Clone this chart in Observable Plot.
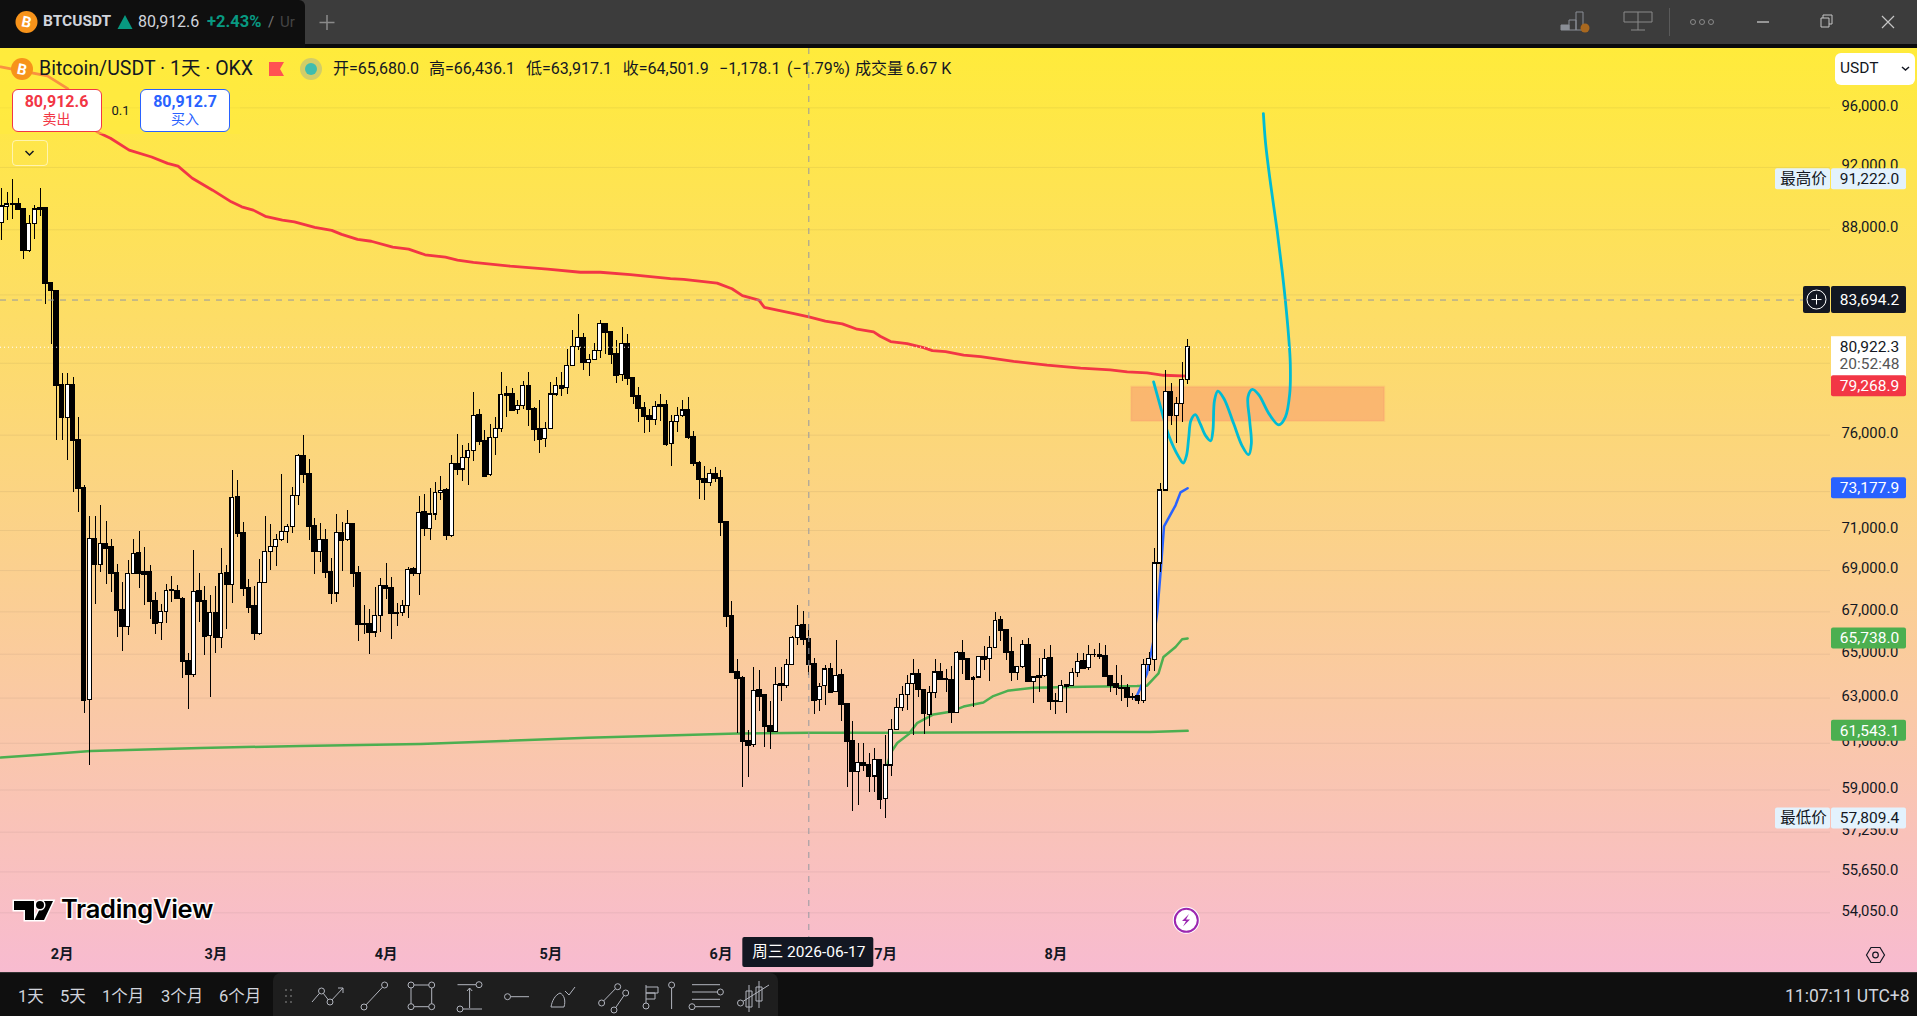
<!DOCTYPE html>
<html lang="zh"><head><meta charset="utf-8"><title>BTCUSDT</title>
<script src="https://cdn.jsdelivr.net/npm/d3@7"></script>
<script src="https://cdn.jsdelivr.net/npm/@observablehq/plot@0.6"></script>
<style>
html,body{margin:0;padding:0;background:#0f0f0f;overflow:hidden}
#app{position:relative;width:1917px;height:1016px;overflow:hidden;font-family:Roboto,"Noto Sans CJK SC",sans-serif}
#host{position:absolute;left:0;top:48px;width:1917px;height:924px}
#host svg{display:block}
.l{position:absolute;white-space:nowrap;transform:translateY(-50%);line-height:1}
.box{position:absolute;box-sizing:border-box}
#chrome{position:absolute;left:0;top:0;pointer-events:none}
</style></head><body><div id="app">
<div class="box" style="left:0;top:0;width:1917px;height:44px;background:#3c3c3c"></div>
<div class="box" style="left:0;top:44px;width:1917px;height:4px;background:#0b0b0b"></div>
<div class="box" style="left:0;top:0;width:305px;height:48px;background:#0f0f0f;border-radius:0 6px 0 0"></div>
<div id="host"></div>
<div class="box" style="left:0;top:48px;width:240px;height:86px;background:rgba(255,235,59,.5)"></div>
<div class="box" style="left:0;top:972px;width:1917px;height:44px;background:#0f0f0f;border-top:1px solid #333"></div>
<div class="box" style="left:273px;top:973px;width:505px;height:43px;background:#1e1e1e;border-radius:8px 8px 0 0"></div>
<div id="labels"></div>
</div>
<script>
// ---- Candle values (one entry per day from 2026-01-21)
const firstDay = Date.UTC(2026, 0, 21);
const opens = [88440,89450,89620,89600,89280,86680,88370,89280,89350,84680,
84240,78750,76930,78750,75720,73160,62920,70570,69280,70320,
70130,68850,67090,66280,68830,69830,68890,68890,67490,66480,
67000,68010,67970,67620,64660,64040,67970,67490,65870,66950,
65770,68850,68310,72680,70870,68120,67240,65950,68400,69920,
70150,70530,70920,71160,72780,74880,73900,71220,69920,70530,
68890,67880,70870,70510,71320,68850,66390,66390,66020,66790,
68250,68120,66950,66930,67280,69040,68850,71940,71090,71820,
72950,73070,70730,74430,74160,74790,75160,77080,75690,73850,
75840,76340,78220,78240,77400,77610,78690,77420,76340,75790,
76340,78240,78690,78580,79870,80920,81440,80020,80200,80680,
82270,81790,80510,79310,81090,79140,78130,77460,77010,76840,
77630,77630,75510,76730,77060,77350,75900,74480,73640,73460,
73900,73690,71410,66770,64160,63880,61090,60910,63330,63110,
61750,61510,63600,63540,64490,65740,66350,65700,64540,62910,
63560,64300,63280,64020,62740,61090,59770,60140,60040,59570,
60260,58620,60040,61570,62570,63140,63650,64070,63360,62260,
63220,64160,63820,63810,62350,65050,64770,63840,63930,64860,
64770,65280,66600,66120,65090,64150,64400,65420,63740,63980,
63980,64810,62870,62830,63560,63530,64120,64670,64350,64950,
64950,64910,63980,63600,63460,63460,63030,63060,62880,64520,
64750,69350,73060,78360,77050,77730,79040];
const closes = [89470,89600,89590,89250,86680,88370,89280,89350,84660,84240,
78750,76930,78750,75700,73140,62900,70570,69280,70320,70090,
68830,67070,66280,68850,69830,68830,68810,67470,66460,67000,
68010,68030,67620,64650,64040,67970,67470,65840,66930,65770,
68850,68290,72680,70850,68100,67220,65950,68400,69920,70150,
70530,70920,71160,72780,74880,73880,71220,69920,70530,68890,
67860,70870,70510,71320,68830,66370,66370,66000,66790,68230,
68100,66910,66930,67280,69040,68830,71900,71090,71820,72950,
73050,70730,74430,74160,74790,75160,77060,75670,73780,75840,
76340,78190,78170,77360,77610,78690,77400,76320,75770,76340,
78240,78690,78580,79870,80920,81440,80020,80200,80680,82250,
81790,80490,79300,81090,79120,78110,77440,76990,76820,77550,
77550,75510,76730,77060,77350,75880,74460,73610,73460,73900,
73670,71390,66750,64150,63870,61070,60900,63330,63080,61720,
61510,63600,63540,64490,65740,66330,65680,64540,62900,63520,
64300,63260,64010,62720,61070,59770,60130,60030,59550,60260,
58600,60040,61570,62570,63140,63650,64070,63360,62290,63220,
64160,63820,63840,62350,65050,64750,63840,63920,64860,64770,
65280,66580,66120,65080,64150,64400,65420,63730,63930,63930,
64800,62860,62830,63560,63510,64120,64660,64330,64950,64970,
64910,63980,63570,63450,63440,63000,63010,62870,64520,64770,
69350,73060,78360,77050,77730,79040,80922.3];
const highs = [90650,90400,91222,90010,89300,88910,89550,90650,89370,84700,
84240,79420,79400,79200,76970,73340,71740,71700,72280,71440,
70530,69300,68420,69490,70570,70960,70150,69250,67930,67360,
68330,68700,68250,67690,65050,69990,68870,68230,67770,68230,
70090,69250,74100,73600,71400,68550,68210,69530,71740,71300,
70810,73900,71300,73240,74960,76000,74700,71600,71340,71060,
69580,71800,71400,72000,71360,69210,67300,67090,68180,68630,
69360,68640,67390,67560,69170,69170,72740,72860,73165,73500,
73810,73160,74920,76020,75440,75530,78350,77420,76240,76580,
76950,79500,78710,78580,77920,78990,79500,77510,77920,76710,
78920,79200,79500,80800,81870,82860,81730,80530,81110,82510,
82310,81810,81340,82080,81690,79160,78630,77790,77400,77850,
78260,77900,77080,77510,77920,78070,76190,74580,74340,74180,
74270,74110,71440,67510,64770,63990,61540,64400,64230,63110,
62860,64400,64400,64780,65830,67310,67020,66400,64810,63650,
64500,64580,65650,64300,62740,61970,61000,60970,60570,60780,
60260,61360,62040,63000,63500,64040,64740,64300,63360,63500,
64740,64580,64300,64430,65120,65620,64770,63960,64920,65360,
65820,66950,66780,66130,65790,64400,65620,65740,63930,64810,
65200,65430,63190,63810,63560,64350,65020,65020,65400,65200,
65510,65400,64000,64500,64040,63620,63190,63110,64740,65080,
70100,73430,79570,78870,78080,80040,81350];
const lows = [87300,88570,88620,89230,86140,86570,87370,88860,83400,81070,
75700,75700,74660,72940,71900,62300,60060,67370,68930,68330,
67950,65800,65140,65890,68790,68120,67300,66640,65910,65660,
66430,67430,67580,63900,62500,63940,66480,64960,63020,65050,
65270,66160,67390,70660,67740,66930,65660,65890,68400,69020,
69210,70430,70340,70850,72300,73440,70510,68830,69390,68590,
67370,67470,68960,70470,68180,65590,65930,65000,65800,66030,
67580,65700,66300,66790,66660,68700,67770,70720,70480,71500,
72560,70510,70650,73830,73550,73340,74570,75440,73780,73780,
74880,76150,76990,77330,77140,77400,76480,75670,74990,75340,
76340,78110,78110,78260,79850,80760,79570,79230,80200,80270,
80530,79910,78860,78950,78730,77700,76710,76100,76150,76540,
76770,75410,74300,76150,76950,75740,74300,72610,72560,73250,
73460,70720,66240,64150,61430,59120,59510,60810,62410,60810,
60710,61510,62860,63450,64460,65400,65400,64040,62280,62380,
62670,63260,63260,61940,59120,58090,58350,59770,58900,58900,
58190,57809.4,59590,61570,62380,62450,61360,63030,61390,61730,
62960,63810,63260,61860,62300,64070,63810,62570,63880,64270,
63760,65260,65590,64710,63760,63810,64360,63730,62770,63260,
63950,62450,62280,62800,62330,63500,63930,64310,64270,64860,
64740,63960,63230,63110,62860,62570,62910,62710,62770,64190,
64190,68930,73040,76520,75560,76710,78780];

// ---- Moving averages and drawings: day offset from firstDay, price
const redDays = [-0.2,8.3,12,17.3,19.8,23.2,27.3,30.2,32.1,34.7,38.4,41.8,43.7,45.8,48,51.1,53.3,57,60.1,61.9,64.8,67.3,71.2,74.1,77.1,80.8,83,85.9,92.6,99.4,105.4,109,114.5,121.8,124.2,130.3,133,134.9,137.9,138.9,144.3,147,150,153.1,155.8,158.8,160,161.9,164.9,167.9,169.5,171.9,175.2,178.3,184.3,190.4,196.5,201.9,205,208.6,211.6,216];
const redPrices = [98850,98210,97320,94370,93940,93140,92690,92270,92090,91290,90520,89770,89450,89240,88850,88600,88490,88150,87960,87710,87400,87280,86910,86790,86440,86300,86110,85970,85740,85560,85370,85370,85230,84980,84940,84710,84370,83960,83690,83260,82890,82690,82440,82280,81970,81810,81560,81250,81130,80900,80730,80670,80470,80380,80110,79890,79720,79620,79510,79450,79320,79268.9];
const longGreenDays = [-0.2,7.1,16.2,36.2,54.4,76.3,106.7,134,147,161.3,200.1,209.2,216];
const longGreenPrices = [60380,60500,60670,60800,60880,60970,61240,61430,61460,61460,61490,61490,61543.1];
const shortGreenDays = [161.3,161.9,163.1,165.2,166.7,169.7,172.8,175.2,178.8,180.6,183.2,187.9,197,206.8,208.6,210.7,211.6,213.8,215,216];
const shortGreenPrices = [60060,60580,61010,61400,61880,62270,62390,62620,62800,63090,63325,63465,63510,63540,63560,64120,64875,65340,65700,65738];
const blueDays = [206.5,208.6,209.8,210.5,211.1,211.7,213.8,214.7,216];
const bluePrices = [62960,64120,65660,67050,69010,71210,72290,72960,73177.9];
const pathDays = [209.8,211.4,212.6,214.4,215.2,215.8,216.2,216.6,217.4,218.3,219.3,220.2,220.6,220.9,221.5,222.6,224.4,225.9,227.1,227.6,227.3,227,227.8,229,230.8,232.6,233.8,234.6,234.7,234.4,233.8,233.2,232.3,231.1,230.2,229.8];
const pathPrices = [78950,77180,75960,74820,74500,74910,75870,76800,77120,76620,75960,75700,76240,77920,78430,78020,76620,75440,74950,75530,76800,78110,78520,78200,77180,76560,76990,78300,79980,81530,83670,85490,87960,90950,93590,95600];
const zoneDays = [205.8, 251.9];
const zonePrices = [76750, 78650];

// ---- Axes and labels
const priceTicks = [96000,92000,88000,84000,80000,76000,73000,71000,69000,67000,65000,63000,61000,59000,57250,55650,54050];
const monthDates = ["2026-02-01","2026-03-01","2026-04-01","2026-05-01","2026-06-01","2026-07-01","2026-08-01"];
const crosshairDate = "2026-06-17";
const crosshairPrice = 83694.2;
const lastPrice = 80922.3;
const countdown = "20:52:48";
const tagPrices = [91222.0, 79268.9, 73177.9, 65738.0, 61543.1, 57809.4];
const tagFills = ["#e3f2fd","#f23645","#2962ff","#4caf50","#4caf50","#e3f2fd"];
const tagInk = ["#131722","#fff","#fff","#fff","#fff","#131722"];
const tagNotes = ["最高价","","","","","最低价"];
const tagShift = [0,10,0,0,0,0];

const fmt = d3.format(",.1f");
const MS = 864e5;
const day = d => new Date(firstDay + d * MS);
const candles = opens.map((o,i)=>({date:day(i),open:o,close:closes[i],high:highs[i],low:lows[i]}));
const series = (ds,ps) => ds.map((d,i)=>({date:day(d),price:ps[i]}));
const up = d => d.close >= d.open;
const FONT = 'Roboto,"Noto Sans CJK SC",sans-serif';
const BODY = 0.35;

function tagsMark(index, scales, values, dim){
  const g = d3.create("svg:g").attr("font-family",FONT).attr("font-size",15.5).attr("text-anchor","middle");
  const X0 = dim.width - dim.marginRight + 1, W = 75, H = 21;
  const put = (x,cy,w,h,fill,txt,ink,rx=2) => {
    g.append("rect").attr("x",x).attr("y",cy-h/2).attr("width",w).attr("height",h).attr("fill",fill).attr("rx",rx);
    if(txt) g.append("text").attr("x",x+w/2+1).attr("y",cy).attr("dy","0.34em").attr("fill",ink).text(txt);
  };
  // countdown tag above the others
  const ly = scales.y(lastPrice);
  g.append("rect").attr("x",X0).attr("y",ly-10.5).attr("width",W).attr("height",40).attr("fill","#fff");
  g.append("text").attr("x",X0+W/2+1).attr("y",ly).attr("dy","0.34em").attr("fill","#131722").text(fmt(lastPrice));
  g.append("text").attr("x",X0+W/2+1).attr("y",ly+17).attr("dy","0.34em").attr("fill","#555").text(countdown);
  tagPrices.forEach((p,i)=>{
    const cy = scales.y(p)+tagShift[i];
    put(X0,cy,W,H,tagFills[i],fmt(p),tagInk[i]);
    if(tagNotes[i]) put(X0-56,cy,55,H,tagFills[i],tagNotes[i],tagInk[i]);
  });
  // crosshair price
  const cy = scales.y(crosshairPrice);
  put(X0,cy,W,27,"#131722",fmt(crosshairPrice),"#fff");
  g.append("rect").attr("x",X0-28).attr("y",cy-13.5).attr("width",27).attr("height",27).attr("rx",2).attr("fill","#131722");
  g.append("circle").attr("cx",X0-14.5).attr("cy",cy).attr("r",9.5).attr("fill","none").attr("stroke","#fff");
  g.append("path").attr("d",`M${X0-19.5} ${cy}h10M${X0-14.5} ${cy-5}v10`).attr("stroke","#fff");
  // crosshair date
  const cx = scales.x(new Date(crosshairDate));
  put(cx-66,904,131,30,"#131722","周三 2026-06-17","#fff");
  return g.node();
}

const chart = Plot.plot({
  width:1917, height:924, marginLeft:0, marginRight:87, marginTop:0, marginBottom:28,
  style:{background:"linear-gradient(#ffeb3b,#f8bbd0)",fontFamily:FONT,overflow:"hidden"},
  x:{type:"utc",domain:[day(-0.237),day(333.1)]},
  y:{type:"log",domain:[96000,54050],range:[59.3,864.3]},
  marks:[
    Plot.gridY(priceTicks,{stroke:"#2a2e39",strokeOpacity:0.07,strokeWidth:1}),
    Plot.rect([0],{x1:()=>day(zoneDays[0]),x2:()=>day(zoneDays[1]),y1:()=>zonePrices[0],y2:()=>zonePrices[1],fill:"#f56b68",fillOpacity:0.3,stroke:"#f56b68",strokeOpacity:0.12,strokeWidth:2}),
    Plot.line(series(longGreenDays,longGreenPrices),{x:"date",y:"price",stroke:"#4caf50",strokeWidth:2.5}),
    Plot.line(series(shortGreenDays,shortGreenPrices),{x:"date",y:"price",stroke:"#4caf50",strokeWidth:2.5}),
    Plot.line(series(blueDays,bluePrices),{x:"date",y:"price",stroke:"#2962ff",strokeWidth:2.5}),
    Plot.line(series(redDays,redPrices),{x:"date",y:"price",stroke:"#f23645",strokeWidth:2.8}),
    Plot.line(series(pathDays,pathPrices),{x:"date",y:"price",stroke:"#00bcd4",strokeWidth:2.8,curve:"catmull-rom"}),
    Plot.ruleX(candles,{x:"date",y1:"low",y2:"high",stroke:"#000",strokeWidth:1,shapeRendering:"crispEdges"}),
    Plot.rect(candles,{x1:d=>new Date(+d.date-BODY*MS),x2:d=>new Date(+d.date+BODY*MS),y1:"open",y2:"close",fill:d=>up(d)?"#fff":"#000",stroke:"#000",strokeWidth:d=>up(d)?1.1:1.7,shapeRendering:"crispEdges"}),
    Plot.ruleY([lastPrice],{stroke:"#fff",strokeWidth:1,strokeDasharray:"1,3"}),
    Plot.ruleY([crosshairPrice],{stroke:"#9598a1",strokeWidth:1,strokeDasharray:"6,6"}),
    Plot.ruleX([new Date(crosshairDate)],{stroke:"#9598a1",strokeWidth:1,strokeDasharray:"6,6"}),
    Plot.axisX(monthDates.map(d=>new Date(d)),{anchor:"bottom",tickSize:0,tickPadding:4,label:null,tickFormat:d=>`${d.getUTCMonth()+1}月`,fontSize:14.5,fontWeight:700,fill:"#131722"}),
    Plot.axisY(priceTicks,{anchor:"right",tickSize:0,tickPadding:11,label:null,tickFormat:fmt,fontSize:14.8,dy:-2,fill:"#131722"}),
    tagsMark
  ]
});
document.getElementById("host").append(chart);

// ---- Application chrome around the chart
const lab = document.getElementById("labels");
function t(text,x,y,style=""){const s=document.createElement("div");s.className="l";s.style.cssText=`left:${x}px;top:${y}px;${style}`;s.textContent=text;lab.append(s);return s;}
function b(x,y,w,h,style){const s=document.createElement("div");s.className="box";s.style.cssText=`left:${x}px;top:${y}px;width:${w}px;height:${h}px;${style}`;lab.append(s);}
// tab
t("BTCUSDT",43,22,"color:#d1d4dc;font-size:15.5px;font-weight:700");
t("80,912.6",138,22,"color:#d1d4dc;font-size:16px");
t("+2.43%",207,22,"color:#089981;font-size:16.5px;font-weight:700");
t("/",268,22,"color:#777;font-size:15px");
t("Ur",280,22,"color:#444;font-size:15px");
// legend
t("Bitcoin/USDT · 1天 · OKX",39,69,"color:#131722;font-size:19.5px");
const legend=[["开=65,680.0",333],["高=66,436.1",429],["低=63,917.1",526],["收=64,501.9",622.7],["−1,178.1",719],["(−1.79%)",787],["成交量",855],["6.67 K",906]];
legend.forEach(([s,x])=>t(s,x,69,"color:#131722;font-size:16px"));
// order buttons
b(11.5,89,90,43,"background:#fff;border:1px solid #f23645;border-radius:6px");
t("80,912.6",56.5,102,"color:#f23645;font-size:16px;font-weight:700;transform:translate(-50%,-50%)");
t("卖出",56.5,119,"color:#f23645;font-size:14px;transform:translate(-50%,-50%)");
t("0.1",120.5,110,"color:#131722;font-size:13px;transform:translate(-50%,-50%)");
b(140,89,90,43,"background:#fff;border:1px solid #2962ff;border-radius:6px");
t("80,912.7",185,102,"color:#2962ff;font-size:16px;font-weight:700;transform:translate(-50%,-50%)");
t("买入",185,119,"color:#2962ff;font-size:14px;transform:translate(-50%,-50%)");
b(11.5,140,36,26,"border:1px solid rgba(255,255,255,.55);border-radius:4px");
// currency selector
b(1835,53,80,32,"background:#fff;border-radius:6px");
t("USDT",1840,69,"color:#131722;font-size:15.5px");
// bottom bar
[["1天",18],["5天",60],["1个月",102],["3个月",161],["6个月",219]].forEach(([s,x])=>t(s,x,997,"color:#d1d4dc;font-size:16.5px"));
t("11:07:11 UTC+8",1785,997,"color:#d1d4dc;font-size:17.5px");
// icons
const ic="#b2b5be";
const circ=(x,y,r=3)=>`<circle cx="${x}" cy="${y}" r="${r}" fill="#1e1e1e" stroke="${ic}"/>`;
const icons=`
<g>
<circle cx="26.5" cy="22" r="11" fill="#f7931a"/><text x="26.5" y="27" text-anchor="middle" font-size="15" font-weight="700" fill="#fff" font-family="Roboto" transform="rotate(12 26.5 22)">B</text>
<path d="M117.5 29l7.5-14 7.5 14z" fill="#089981"/>
<path d="M327 15v15M319.5 22.500h15" stroke="#8a8a8a" stroke-width="1.500"/>
<path d="M1561 30v-5h8v5zM1569 30v-10h7v10zM1576 30v-18h7v18z" fill="none" stroke="#8a8e96"/><path d="M1561 25h8v5h-8z" fill="#8a8e96"/><circle cx="1585" cy="28" r="4.500" fill="#a8681f"/>
<path d="M1624 12h28v10h-28zM1638 12v18M1631 30h14" fill="none" stroke="#8a8a8a"/>
<path d="M1669.500 8v28" stroke="#5a5a5a"/>
<g fill="none" stroke="#8a8a8a"><circle cx="1693" cy="22" r="2.500"/><circle cx="1702" cy="22" r="2.500"/><circle cx="1711" cy="22" r="2.500"/></g>
<path d="M1757 22h12" stroke="#b5b5b5" stroke-width="1.500"/>
<path d="M1821 18h8v9h-8zM1823 18v-3h9v9h-3" fill="none" stroke="#c5c5c5"/>
<path d="M1882 16l12 12M1894 16l-12 12" stroke="#c5c5c5" stroke-width="1.200"/>
</g>
<g>
<circle cx="22" cy="69" r="11" fill="#f7931a"/><text x="22" y="74.500" text-anchor="middle" font-size="15" font-weight="700" fill="#fff" font-family="Roboto" transform="rotate(12 22 69)">B</text>
<path d="M269 62h15l-4 7 4 7h-15z" fill="#ff5252"/>
<circle cx="311" cy="69" r="11" fill="#d2cd68"/><circle cx="311" cy="69" r="6" fill="#3fbdae"/>
<path d="M25.500 151l4 4 4-4" fill="none" stroke="#131722" stroke-width="1.500"/>
<path d="M1902 67l3.500 3 3.500-3" fill="none" stroke="#131722" stroke-width="1.500"/>
</g>
<g font-family="Inter" font-weight="600">
<path d="M14 901h20v19h-9v-10h-11zM53 901l-9 19h-9.500l9-19z" fill="#000" stroke="#fff" stroke-width="3" paint-order="stroke"/>
<circle cx="40" cy="905" r="4" fill="#000" stroke="#fff" stroke-width="3" paint-order="stroke"/>
<text x="61" y="918" font-size="25.500" fill="#000" stroke="#fff" stroke-width="3" paint-order="stroke" letter-spacing="-.3">TradingView</text>
</g>
<g>
<circle cx="1186.300" cy="920.300" r="13.500" fill="#fff"/><circle cx="1186.300" cy="920.300" r="11.500" fill="#fff" stroke="#9c27b0" stroke-width="2"/>
<path d="M1189 914l-7 7h4l-3 5.500 7-7h-4z" fill="#9c27b0"/>
<path d="M1866.500 955l4.500-7.500h9l4.500 7.500-4.500 7.500h-9z" fill="none" stroke="#131722" stroke-width="1.200"/><circle cx="1875.500" cy="955" r="2.800" fill="none" stroke="#131722" stroke-width="1.200"/>
</g>
<g fill="none" stroke="${ic}">
<g fill="#555" stroke="none"><rect x="285" y="989" width="2" height="2"/><rect x="290" y="989" width="2" height="2"/><rect x="285" y="995" width="2" height="2"/><rect x="290" y="995" width="2" height="2"/><rect x="285" y="1001" width="2" height="2"/><rect x="290" y="1001" width="2" height="2"/></g>
<path d="M312 1002l9.500-11 8.500 11 13-14M338 988h5v5"/>${circ(321.500,991)}${circ(330,1002)}
<path d="M364 1007l20.600-22"/>${circ(364,1007)}${circ(384.600,985)}
<path d="M411 985h20.700v21.700h-20.700z"/>${circ(411,985)}${circ(431.700,985)}${circ(411,1006.700)}${circ(431.700,1006.700)}
<path d="M457.500 984.700h21.500M460 1009h22M469.600 1008v-20M467 991l2.600-3 2.600 3"/>${circ(479,984.700)}${circ(460,1009)}
<path d="M507.500 996.700h21.500"/>${circ(507.500,996.700)}
<path d="M551 1007h13c2-7 0-12-4-14-5 2-8 8-9 14zM565 991l4 4 6-8"/>
<path d="M601.600 1003l16-16.500M614 1010l11.700-17"/>${circ(601.600,1003)}${circ(617.700,986.700)}${circ(614,1010)}${circ(625.700,993)}
<path d="M646 985v21M646 987h12v6h-12M646 993h9v6h-9M671.600 988v21"/>${circ(646,1006)}${circ(671.600,985)}
<path d="M692 984.700h28M692 992h25M692 999.300h28M695 1006.700h25"/>${circ(720.400,992)}${circ(692,1006.700)}
<path d="M749 985v27M746 991h6v16h-6zM759 981v27M756 987h6v14h-6zM740.500 1003l28.500-18"/>${circ(740.500,1003)}
</g>`;
const ns="http://www.w3.org/2000/svg";
const chrome=document.createElementNS(ns,"svg");chrome.setAttribute("id","chrome");chrome.setAttribute("width","1917");chrome.setAttribute("height","1016");chrome.innerHTML=icons;
document.getElementById("app").append(chrome);
</script></body></html>
